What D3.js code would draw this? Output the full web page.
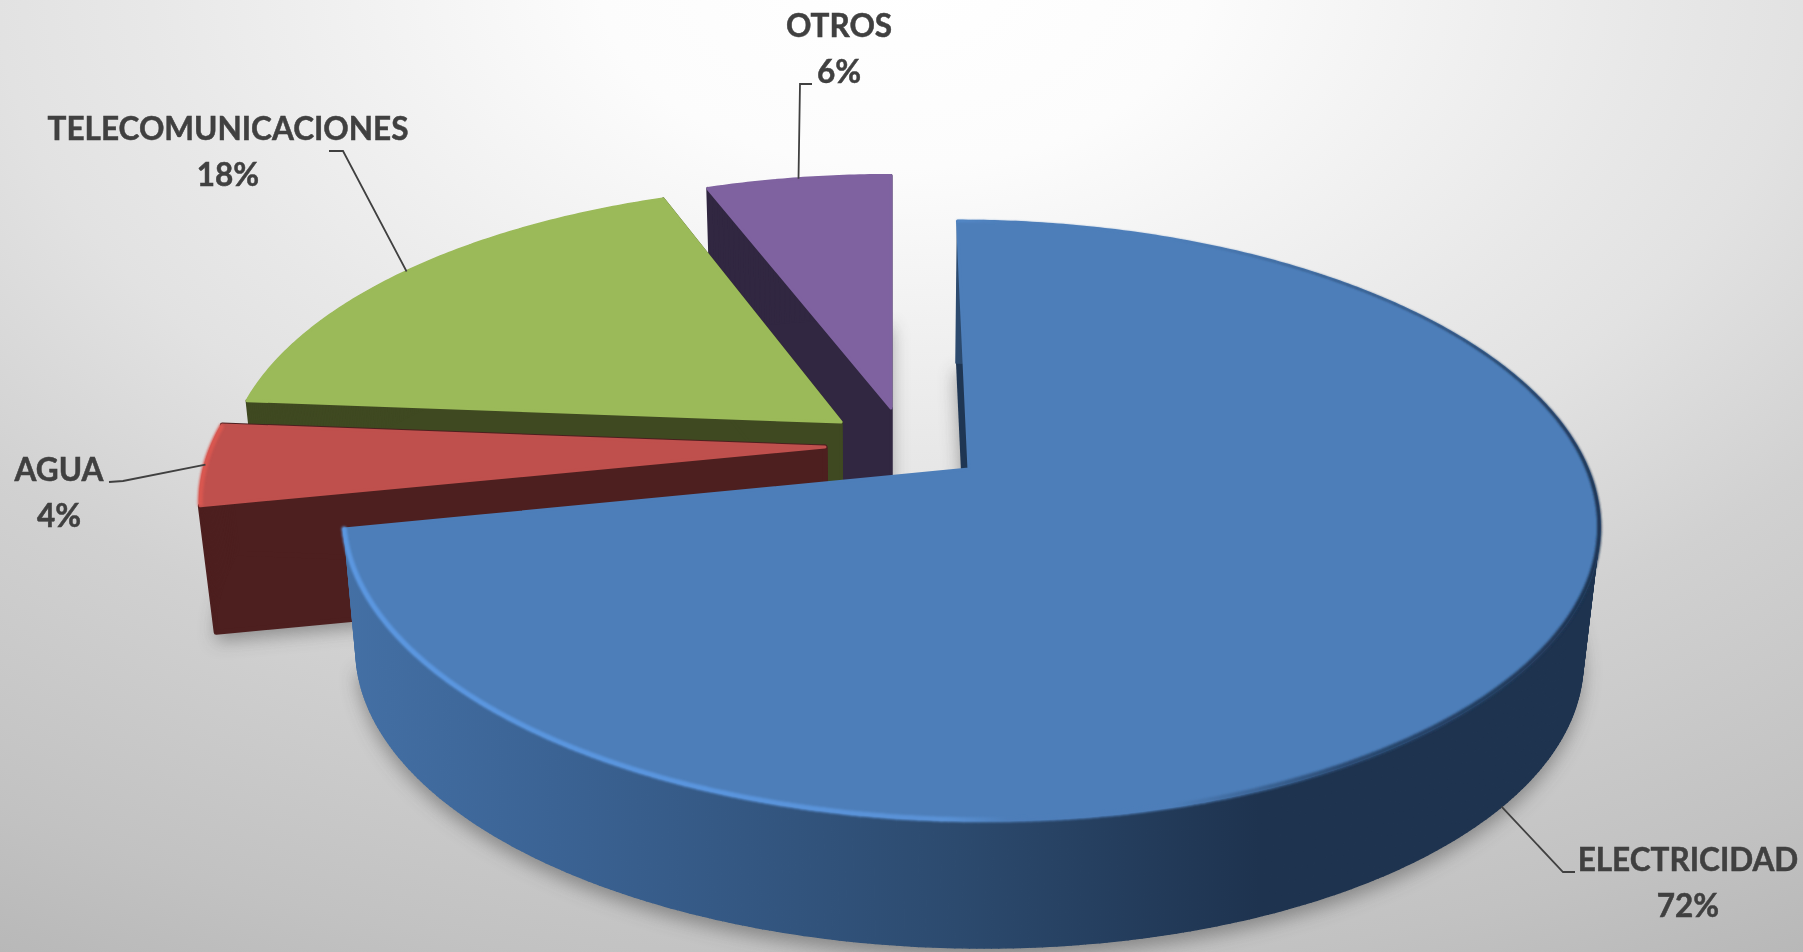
<!DOCTYPE html>
<html>
<head>
<meta charset="utf-8">
<script src="https://cdn.jsdelivr.net/npm/d3@7"></script>
<style>
  body { margin: 0; overflow: hidden; }
  text { font-family: Lato, "Open Sans", sans-serif; font-weight: 700; fill: #404040; stroke: #404040; stroke-width: 0.5; }
</style>
</head>
<body>
<div id="container"></div>
<script>
/* DATA */
const categories = ["ELECTRICIDAD", "AGUA", "TELECOMUNICACIONES", "OTROS"];
const shares = [71.8, 4.45, 18, 5.75];

/* CONSTANTS AND GLOBALS */
const width = 1803, height = 952;
const fontSize = 31.5;

// one exploded offset per slice, in pie radii
const explodeU = [0.1254, -0.1076, -0.0827, 0];
const explodeV = [0, -0.0763, -0.1655, -0.2167];
const radii = [0.995, 1, 1, 1];
const wallDrop = [147, 138, 147, 147];

const topColors = ["#4d7eb9", "#bf504d", "#9bba59", "#7f62a0"];
const wallColors = ["#1f3653", "#4d1f1f", "#3f4921", "#312741"];
const paintOrder = [3, 2, 1, 0]; // back to front

// label boxes and the elbow of each leader line
const labelX = [1688, 59, 228, 839];
const labelY = [871, 481, 140, 37];
const elbowStart = [[1575, 872], [109, 482], [329, 151], [812, 84]];
const elbowMid = [[1563, 872], [123, 481], [343, 151], [800, 84]];

// perspective of the pie plane
const vanishX = 891, centerY = 469, tilt = 0.1728;
const sinkScale = 0.977;

const xWorld = d3.scaleLinear().domain([-1, 1]).range([-621.6, 621.6]);
const yWorld = d3.scaleLinear().domain([-1, 1]).range([-292, 292]);

function project(u, v) {
  const s = 1 / (1 - tilt * v);
  return [vanishX + xWorld(u) * s, centerY + yWorld(v) * s];
}
// same point on the underside of the pie
function sink(p, i) {
  return [vanishX + (p[0] - vanishX) * sinkScale, p[1] * sinkScale + wallDrop[i]];
}

const svg = d3.select("#container").append("svg")
  .attr("width", width)
  .attr("height", height);

const defs = svg.append("defs");

/* BACKGROUND */
const bg = defs.append("radialGradient")
  .attr("id", "bg")
  .attr("gradientUnits", "userSpaceOnUse")
  .attr("cx", 0).attr("cy", 0).attr("r", 1)
  .attr("gradientTransform", "translate(900,-20) scale(2100,1312)");
[[0, "#ffffff"], [0.143, "#fcfcfc"], [0.357, "#e8e8e8"], [0.43, "#e2e2e2"], [0.57, "#d1d1d1"], [0.76, "#c2c2c2"], [0.857, "#b8b8b8"], [1, "#b4b4b4"]]
  .forEach(d => bg.append("stop").attr("offset", d[0]).attr("stop-color", d[1]));
svg.append("rect").attr("width", width).attr("height", height).attr("fill", "url(#bg)");

/* FILTERS AND GRADIENTS */
defs.append("filter").attr("id", "shadowBlur")
  .attr("x", "-20%").attr("y", "-20%").attr("width", "140%").attr("height", "140%")
  .append("feGaussianBlur").attr("stdDeviation", 9);
defs.append("filter").attr("id", "rimBlur")
  .attr("filterUnits", "userSpaceOnUse")
  .attr("x", 0).attr("y", 0).attr("width", width).attr("height", height)
  .append("feGaussianBlur").attr("stdDeviation", 1.2);

const wallGrad = defs.append("linearGradient")
  .attr("id", "blueWall")
  .attr("gradientUnits", "userSpaceOnUse")
  .attr("x1", 340).attr("x2", 1600).attr("y1", 0).attr("y2", 0);
[[0, "#4470a5"], [0.17, "#3b6394"], [0.49, "#2c4a6e"], [0.73, "#1e334f"], [1, "#1e334f"]]
  .forEach(d => wallGrad.append("stop").attr("offset", d[0]).attr("stop-color", d[1]));

const rimGrad = defs.append("linearGradient")
  .attr("id", "blueRim")
  .attr("gradientUnits", "userSpaceOnUse")
  .attr("x1", 340).attr("x2", 1600).attr("y1", 0).attr("y2", 0);
[[0, "#5b97e0"], [0.3, "#5a95de"], [0.48, "#5a92d6"], [0.53, "#4d7eb9"], [0.66, "#4d7eb9"], [0.8, "#2a4a72"], [1, "#1e3350"]]
  .forEach(d => rimGrad.append("stop").attr("offset", d[0]).attr("stop-color", d[1]));

/* SLICES */
const pie = d3.pie().sort(null).value(d => d)(shares);
const line = d3.line();
const pathOf = pts => line(pts) + "Z";

const slices = pie.map((d, i) => {
  const u0 = explodeU[i], v0 = explodeV[i], r = radii[i];
  const at = a => project(u0 + r * Math.sin(a), v0 - r * Math.cos(a));
  const angles = d3.range(d.startAngle, d.endAngle, 0.01).concat(d.endAngle);
  return {i, angles, arc: angles.map(at), apex: project(u0, v0), at,
    mid: (d.startAngle + d.endAngle) / 2,
    first: at(d.startAngle), last: at(d.endAngle)};
});

// soft shadow on the background first
svg.append("g").attr("filter", "url(#shadowBlur)").attr("opacity", 0.5)
  .selectAll("path")
  .data(slices)
  .join("path")
  .attr("d", s => pathOf([s.apex, ...s.arc].map(p => sink(p, s.i))))
  .attr("transform", "translate(0,9)")
  .attr("fill", "#4a4a4a");

// rim gets wider going from the back of the blue slice to its front
const rimWidth = d3.scaleLinear().domain([0.9, 2]).range([1.5, 5]).clamp(true);

paintOrder.forEach(i => {
  const s = slices[i];
  const g = svg.append("g");
  const cutStroke = i === 0 ? 0 : i === 1 ? 5 : 3;

  // the two cut faces
  [s.first, s.last].forEach(p => {
    g.append("path")
      .attr("d", pathOf([s.apex, p, sink(p, i), sink(s.apex, i)]))
      .attr("fill", wallColors[i])
      .attr("stroke", wallColors[i])
      .attr("stroke-width", cutStroke)
      .attr("stroke-linejoin", "round");
  });

  // the curved outside, one strip per step so the silhouette stays closed
  const wallFill = i === 0 ? "url(#blueWall)" : wallColors[i];
  g.append("g").selectAll("path")
    .data(d3.pairs(s.arc))
    .join("path")
    .attr("d", d => pathOf([d[0], d[1], sink(d[1], i), sink(d[0], i)]))
    .attr("fill", wallFill)
    .attr("stroke", wallFill)
    .attr("stroke-width", 1.5)
    .attr("stroke-linejoin", "round");

  // the top
  g.append("path")
    .attr("d", pathOf([s.apex, ...s.arc]))
    .attr("fill", topColors[i])
    .attr("stroke", topColors[i])
    .attr("stroke-width", 3)
    .attr("stroke-linejoin", "round");

  // bevel along the rim
  const rim = g.append("g").attr("filter", "url(#rimBlur)");
  if (i === 0) {
    rim.selectAll("path")
      .data(d3.pairs(s.arc.map((p, k) => ({p, a: s.angles[k]}))))
      .join("path")
      .attr("d", d => line([d[0].p, d[1].p]))
      .attr("fill", "none")
      .attr("stroke", "url(#blueRim)")
      .attr("stroke-linecap", "round")
      .attr("stroke-width", d => rimWidth(d[0].a));
  } else if (i === 1) {
    rim.append("path").attr("d", line(s.arc)).attr("fill", "none")
      .attr("stroke", "#d9574f").attr("stroke-width", 5);
  }
});

/* LABELS */
const leaderEnd = i => {
  const p = slices[i].at(slices[i].mid);
  return i === 0 ? sink(p, 0) : p; // blue one points at the wall
};

svg.append("g").selectAll("path")
  .data(categories)
  .join("path")
  .attr("d", (d, i) => line([elbowStart[i], elbowMid[i], leaderEnd(i)]))
  .attr("fill", "none")
  .attr("stroke", "#404040")
  .attr("stroke-width", 1.8);

const labels = svg.append("g").selectAll("text")
  .data(categories)
  .join("text")
  .attr("text-anchor", "middle")
  .attr("font-size", fontSize)
  .attr("y", (d, i) => labelY[i]);

labels.append("tspan").attr("x", (d, i) => labelX[i]).text(d => d);
labels.append("tspan").attr("x", (d, i) => labelX[i]).attr("dy", 46).text((d, i) => Math.round(shares[i]) + "%");
</script>
</body>
</html>
